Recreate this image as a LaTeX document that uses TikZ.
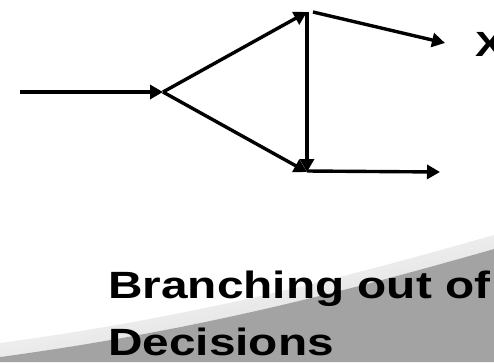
\documentclass[tikz,border=0pt]{standalone}
\usepackage{fontspec}
\setmainfont{Liberation Sans}
\newfontfamily\slidefont[FakeStretch=1.257]{Liberation Sans}
\usepackage{xcolor}
\usetikzlibrary{arrows.meta,positioning,calc}
\definecolor{SlideGrey}{HTML}{A3A3A3}
\definecolor{SlideGlow}{HTML}{D8D8D8}
\begin{document}
\begin{tikzpicture}[
  x=1pt,y=-1pt,
  flow/.style={line width=3.4pt,-{Triangle[length=13pt,width=14pt]}},
  title/.style={font=\slidefont\bfseries\fontsize{38}{56.5}\selectfont,align=left,anchor=base west,inner sep=0pt},
  tag/.style={font=\slidefont\bfseries\fontsize{35}{40}\selectfont,anchor=west,inner sep=0pt}
]
\path[use as bounding box,clip] (0,0) rectangle (494,362);
\shade[top color=white,bottom color=SlideGlow,shading angle=13]
  (0,343) .. controls (200,316) and (350,276) .. (494,235) -- (494,249)
  .. controls (350,290) and (200,330) .. (0,357) -- cycle;
\fill[SlideGrey] (0,357) .. controls (200,330) and (350,290) .. (494,249) -- (494,362) -- (0,362) -- cycle;
\coordinate (in) at (20,92);
\coordinate (split) at (163,92);
\coordinate (top) at (307,12);
\coordinate (bot) at (307,172);
\coordinate (upout) at (445,43);
\coordinate (lowout) at (440,172);
\node[tag] (xlab) at (475,44) {X};
\draw[flow] (in) -- (split);
\draw[flow] (split) -- (top);
\draw[flow] (split) -- (bot);
\draw[flow] (top) -- (bot);
\draw[flow] ([xshift=6]top) -- (upout);
\draw[flow] ([yshift=1]bot) -- (lowout);
\node[title] (caption) at (108,355) {Branching out of\\Decisions};
\end{tikzpicture}
\end{document}
